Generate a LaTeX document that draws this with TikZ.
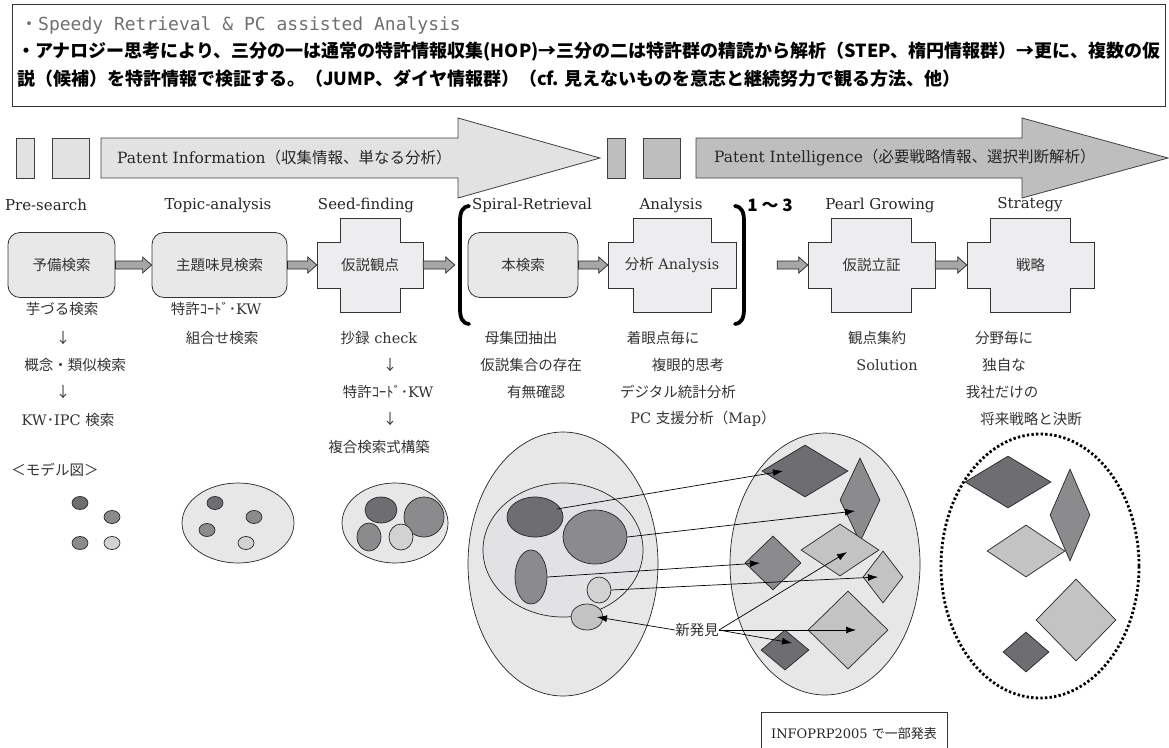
\documentclass[tikz,border=0pt]{standalone}
\usepackage{fontspec}
\setmainfont{DejaVu Serif}
\newfontfamily\jp{Noto Sans CJK JP}
\newfontfamily\mono{DejaVu Sans Mono}
\usetikzlibrary{shapes.geometric,calc,arrows.meta}
\newcommand\J[1]{{\jp #1}}
\definecolor{boxgray}{HTML}{E8E8E8}
\definecolor{crossgray}{HTML}{EDEDEF}
\definecolor{bandlight}{HTML}{E2E2E2}
\definecolor{banddark}{HTML}{BEBEBE}
\definecolor{dk}{HTML}{6E6E72}
\definecolor{md}{HTML}{8B8B8E}
\definecolor{lt}{HTML}{C3C3C3}
\definecolor{ltt}{HTML}{D2D2D2}
\definecolor{ellfill}{HTML}{E7E7E7}
\definecolor{innerfill}{HTML}{E2E2E4}
\definecolor{smallarrow}{HTML}{A6A6A6}
\definecolor{topgray}{HTML}{707070}
\newcommand\crossbg[4]{%
\filldraw[crossfill] ({#1-#3},{#2-23}) -- ({#1-#4},{#2-23}) -- ({#1-#4},{#2-47}) -- ({#1+#4},{#2-47}) -- ({#1+#4},{#2-23}) -- ({#1+#3},{#2-23}) -- ({#1+#3},{#2+23}) -- ({#1+#4},{#2+23}) -- ({#1+#4},{#2+47}) -- ({#1-#4},{#2+47}) -- ({#1-#4},{#2+23}) -- ({#1-#3},{#2+23}) -- cycle;}
\newcommand\garrow[2]{%
\filldraw[garrowst] ($(#1.east)+(0,-4)$) -- ($(#2.west)+(-9,-4)$) -- ($(#2.west)+(-9,-8)$) -- (#2.west) -- ($(#2.west)+(-9,8)$) -- ($(#2.west)+(-9,4)$) -- ($(#1.east)+(0,4)$) -- cycle;}
\begin{document}
\begin{tikzpicture}[x=1pt,y=-1pt,
  lbl/.style={inner sep=0, font=\fontsize{15}{18}\selectfont, text=black!85},
  body/.style={inner sep=0, font=\fontsize{14.5}{17}\selectfont, text=black!80},
  rbox/.style={draw=black!80, fill=boxgray, rounded corners=12pt, line width=0.8pt, inner sep=0, minimum height=65, font=\jp\fontsize{14.5}{17}\selectfont, text=black!80},
  crossfill/.style={draw=black!80, fill=crossgray, line width=0.8pt},
  crosslbl/.style={inner sep=0, minimum height=46, font=\fontsize{14.5}{17}\selectfont, text=black!80},
  garrowst/.style={draw=black!85, fill=smallarrow, line width=0.7pt},
  band/.style={draw=black!75, line width=0.8pt},
  blob/.style={ellipse, draw=black!85, line width=0.7pt, inner sep=0},
  dia/.style={diamond, draw=black!85, line width=0.7pt, inner sep=0},
  marr/.style={line width=0.7pt, -{Latex[length=10pt,width=7pt]}},
  brk/.style={line width=3.8pt, line cap=round},
  hid/.style={inner sep=0, minimum size=0},
]
\useasboundingbox (0,0) rectangle (1169,747);
\fill[white] (0,0) rectangle (1169,747);

% top box
\node[draw=black!80, line width=0.8pt, minimum width=1153, minimum height=102, inner sep=0] (top) at (588.5,55) {};
\node[anchor=west, inner sep=0, text=topgray, font=\mono\fontsize{18}{20}\selectfont] (t1) at (20,25) {\J{・}Speedy Retrieval \& PC assisted Analysis};
\node[anchor=west, inner sep=0, font=\jp\bfseries\fontsize{18}{20}\selectfont] (t2) at (17,52) {・アナロジー思考により、三分の一は通常の特許情報収集(HOP)→三分の二は特許群の精読から解析（STEP、楕円情報群）→更に、複数の仮};
\node[anchor=west, inner sep=0, font=\jp\bfseries\fontsize{18}{20}\selectfont] (t3) at (17,79) {説（候補）を特許情報で検証する。（JUMP、ダイヤ情報群）（cf. 見えないものを意志と継続努力で観る方法、他）};

% bands
\filldraw[band, fill=bandlight] (16,138) rectangle (34,178);
\filldraw[band, fill=bandlight] (52,138) rectangle (89,178);
\filldraw[band, fill=bandlight] (101,138) -- (458,138) -- (458,118) -- (600,158) -- (458,198) -- (458,178) -- (101,178) -- cycle;
\node[anchor=west, inner sep=0, font=\fontsize{15.5}{19}\selectfont, text=black!85] (pinfo) at (117,158) {Patent Information\J{（収集情報、単なる分析）}};
\filldraw[band, fill=banddark] (607,138) rectangle (625,178);
\filldraw[band, fill=banddark] (643,138) rectangle (680,178);
\filldraw[band, fill=banddark] (696,138) -- (1022,138) -- (1022,118) -- (1168,158) -- (1022,198) -- (1022,178) -- (696,178) -- cycle;
\node[anchor=west, inner sep=0, font=\fontsize{15.5}{19}\selectfont, text=black!85] (pint) at (714,158) {Patent Intelligence\J{（必要戦略情報、選択判断解析）}};

% step labels
\node[lbl] (l1) at (46,205) {Pre-search};
\node[lbl] (l2) at (218,205) {Topic-analysis};
\node[lbl] (l3) at (366,205) {Seed-finding};
\node[lbl] (l4) at (532,205) {Spiral-Retrieval};
\node[lbl] (l5) at (671,205) {Analysis};
\node[inner sep=0, font=\jp\bfseries\fontsize{17}{19}\selectfont] (l55) at (770,205) {1 ～ 3};
\node[lbl] (l6) at (880,205) {Pearl Growing};
\node[lbl] (l7) at (1030,205) {Strategy};

% process row
\node[rbox, minimum width=107] (b1) at (61.5,265) {予備検索};
\node[rbox, minimum width=135] (b2) at (219.5,265) {主題味見検索};
\crossbg{370}{265}{53}{30}
\node[crosslbl, minimum width=106] (c3) at (370,265) {\J{仮説観点}};
\node[hid] (brL) at (455,265) {};
\node[rbox, minimum width=110] (b4) at (523,265) {本検索};
\crossbg{672}{265}{64}{39}
\node[crosslbl, minimum width=128] (c5) at (672,265) {\J{分析} Analysis};
\node[hid] (brR) at (777,265) {};
\crossbg{871.5}{265}{63.5}{40}
\node[crosslbl, minimum width=127] (c6) at (871.5,265) {\J{仮説立証}};
\crossbg{1030.5}{265}{63.5}{40}
\node[crosslbl, minimum width=127] (c7) at (1030.5,265) {\J{戦略}};
\garrow{b1}{b2}
\garrow{b2}{c3}
\garrow{c3}{brL}
\garrow{b4}{c5}
\garrow{brR}{c6}
\garrow{c6}{c7}
\draw[brk] (469,206) .. controls (462,207) and (460,212) .. (460,222) -- (460,308) .. controls (460,318) and (462,323) .. (469,324);
\draw[brk] (735,206) .. controls (742,207) and (744,212) .. (744,222) -- (744,308) .. controls (744,318) and (742,323) .. (735,324);

% text columns
\node[body] (s11) at (62,309) {\J{芋づる検索}};
\node[body] (s12) at (63,338) {\J{↓}};
\node[body] (s13) at (75,365) {\J{概念・類似検索}};
\node[body] (s14) at (63,392) {\J{↓}};
\node[body] (s15) at (68,420) {KW\J{･}IPC \J{検索}};
\node[body] (s21) at (216,309) {\J{特許ｺｰﾄﾞ･}KW};
\node[body] (s22) at (222,338) {\J{組合せ検索}};
\node[body] (s31) at (379,338) {\J{抄録} check};
\node[body] (s32) at (390,365) {\J{↓}};
\node[body] (s33) at (388,392) {\J{特許ｺｰﾄﾞ･}KW};
\node[body] (s34) at (390,419) {\J{↓}};
\node[body] (s35) at (379,447) {\J{複合検索式構築}};
\node[body] (s41) at (521,338) {\J{母集団抽出}};
\node[body] (s42) at (531,365) {\J{仮説集合の存在}};
\node[body] (s43) at (536,392) {\J{有無確認}};
\node[body] (s51) at (663,338) {\J{着眼点毎に}};
\node[body] (s52) at (688,365) {\J{複眼的思考}};
\node[body] (s53) at (678,392) {\J{デジタル統計分析}};
\node[body] (s54) at (703,419) {PC \J{支援分析（}Map\J{）}};
\node[body] (s61) at (877,338) {\J{観点集約}};
\node[body] (s62) at (887,365) {Solution};
\node[body] (s71) at (1004,338) {\J{分野毎に}};
\node[body] (s72) at (1004,365) {\J{独自な}};
\node[body] (s73) at (1002,392) {\J{我社だけの}};
\node[body] (s74) at (1031,419) {\J{将来戦略と決断}};
\node[body] (model) at (55,470) {\J{＜モデル図＞}};

% model group 1
\node[blob, fill=dk, minimum width=16, minimum height=13] (g1a) at (80,503) {};
\node[blob, fill=md, minimum width=16, minimum height=13] (g1b) at (112,517) {};
\node[blob, fill=md, minimum width=16, minimum height=13] (g1c) at (80,543) {};
\node[blob, fill=ltt, minimum width=16, minimum height=13] (g1d) at (112,543) {};
% group 2
\node[blob, fill=ellfill, minimum width=112, minimum height=80] (g2) at (238,523) {};
\node[blob, fill=dk, minimum width=16, minimum height=13] (g2a) at (215,503) {};
\node[blob, fill=md, minimum width=16, minimum height=13] (g2b) at (254,517) {};
\node[blob, fill=md, minimum width=16, minimum height=13] (g2c) at (207,530) {};
\node[blob, fill=ltt, minimum width=16, minimum height=13] (g2d) at (246,543) {};
% group 3
\node[blob, fill=ellfill, minimum width=106, minimum height=80] (g3) at (395,523) {};
\node[blob, fill=dk, minimum width=32, minimum height=26] (g3a) at (381,510) {};
\node[blob, fill=md, minimum width=40, minimum height=40] (g3b) at (424,517) {};
\node[blob, fill=md, minimum width=24, minimum height=28] (g3c) at (369,537) {};
\node[blob, fill=ltt, minimum width=24, minimum height=26] (g3d) at (401,537) {};

% ellipse A
\node[blob, fill=ellfill, minimum width=190, minimum height=264] (A) at (563,564) {};
\node[blob, fill=innerfill, minimum width=160, minimum height=134] (Ain) at (563,550) {};
\node[blob, fill=dk, minimum width=56, minimum height=40] (a1) at (535,517) {};
\node[blob, fill=md, minimum width=64, minimum height=54] (a2) at (595,537) {};
\node[blob, fill=md, minimum width=32, minimum height=54] (a3) at (531,577) {};
\node[blob, fill=ltt, minimum width=24, minimum height=26] (a4) at (599,590) {};
\node[blob, fill=lt, minimum width=32, minimum height=26] (a5) at (587,617) {};

% ellipse B
\node[blob, fill=ellfill, minimum width=190, minimum height=262] (B) at (825,564) {};
\node[dia, fill=dk, minimum width=86, minimum height=52] (d1) at (805,471) {};
\node[dia, fill=md, minimum width=40, minimum height=84] (d2) at (860,500) {};
\node[dia, fill=md, minimum width=56, minimum height=54] (d3) at (773,563) {};
\node[dia, fill=lt, minimum width=78, minimum height=52] (d4) at (840,550) {};
\node[dia, fill=lt, minimum width=40, minimum height=52] (d5) at (883,577) {};
\node[dia, fill=lt, minimum width=80, minimum height=78] (d6) at (848,630) {};
\node[dia, fill=dk, minimum width=48, minimum height=40] (d7) at (785,650) {};

% ellipse C (dotted)
\node[ellipse, draw=black, line width=2.8pt, dash pattern=on 2.4pt off 2.2pt, minimum width=198, minimum height=264, inner sep=0] (C) at (1040,566) {};
\node[dia, fill=dk, minimum width=86, minimum height=52] (e1) at (1008,482) {};
\node[dia, fill=lt, minimum width=78, minimum height=52] (e3) at (1026,551) {};
\node[dia, fill=md, minimum width=40, minimum height=92] (e2) at (1070,515) {};
\node[dia, fill=lt, minimum width=80, minimum height=82] (e4) at (1076,620) {};
\node[dia, fill=dk, minimum width=46, minimum height=40] (e5) at (1026,652) {};

% arrows A -> B
\draw[marr] ($(a1.center)+(22,-8)$) -- ($(d1.center)+(-22,0)$);
\draw[marr] (a2.east) -- ($(d2.center)+(-5,11)$);
\draw[marr] (a3.east) -- ($(d3.center)+(-13,0)$);
\draw[marr] (a4.east) -- ($(d5.center)+(-5,0)$);
\node[body] (N) at (697,630) {\J{新発見}};
\draw[marr] (N.west) -- ($(a5.center)+(10,0)$);
\draw[marr] (N.east) -- ($(d4.center)+(7,2)$);
\draw[marr] (N.east) -- ($(d6.center)+(8,0)$);
\draw[marr] (N.east) -- ($(d7.center)+(7,-7)$);

% note box
\node[draw=black!80, line width=0.8pt, minimum width=186, minimum height=44, inner sep=0, font=\fontsize{13}{16}\selectfont, text=black!85] (info) at (854,734) {INFOPRP2005 \J{で一部発表}};
\end{tikzpicture}
\end{document}
